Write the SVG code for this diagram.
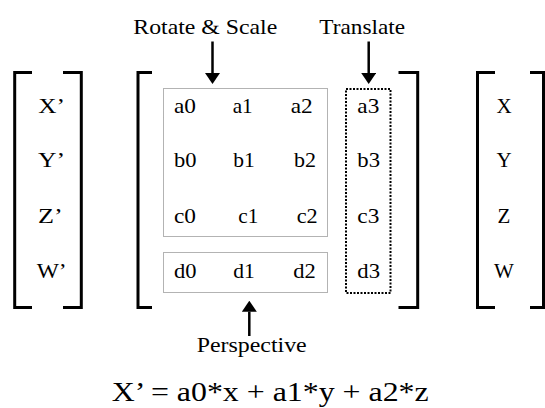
<svg xmlns="http://www.w3.org/2000/svg" width="545" height="408" viewBox="0 0 545 408">
<style>
text { font-family: "Liberation Serif", "Times New Roman", serif; font-size: 21px; fill: #000; }
.bracket { fill: none; stroke: #000; stroke-width: 3; }
.thinbox { fill: none; stroke: #666; stroke-width: 1; stroke-dasharray: 1 1; }
.thickbox { fill: none; stroke: #000; stroke-width: 2; stroke-dasharray: 2 1.5; }
.arrow { stroke: #000; stroke-width: 2.5; fill: none; }
.eq { font-size: 28px; }
</style>
<defs>
<marker id="head" viewBox="0 0 11 15" refX="0" refY="7.5" markerWidth="11" markerHeight="15" markerUnits="userSpaceOnUse" orient="auto">
<path d="M0,0 L11,7.5 L0,15 Z" fill="#000"/>
</marker>
</defs>
<rect width="545" height="408" fill="#fff"/>

<g id="result-vector">
<path class="bracket" d="M32,72.5 H14.7 V307.5 H32"/>
<path class="bracket" d="M63,72.5 H81.3 V307.5 H63"/>
<text x="51.7" y="113" text-anchor="middle" textLength="26.7" lengthAdjust="spacingAndGlyphs">X’</text>
<text x="51.5" y="167" text-anchor="middle" textLength="27" lengthAdjust="spacingAndGlyphs">Y’</text>
<text x="50.4" y="223" text-anchor="middle" textLength="24.7" lengthAdjust="spacingAndGlyphs">Z’</text>
<text x="51.7" y="278" text-anchor="middle" textLength="30" lengthAdjust="spacingAndGlyphs">W’</text>
</g>

<g id="matrix">
<path class="bracket" d="M152,72.5 H138 V307.5 H152"/>
<path class="bracket" d="M398.5,72.5 H417.7 V307.5 H398.5"/>
<text x="174" y="113" textLength="22" lengthAdjust="spacingAndGlyphs">a0</text>
<text x="232.7" y="113" textLength="20" lengthAdjust="spacingAndGlyphs">a1</text>
<text x="290.7" y="113" textLength="22" lengthAdjust="spacingAndGlyphs">a2</text>
<text x="174" y="167" textLength="22.5" lengthAdjust="spacingAndGlyphs">b0</text>
<text x="233.3" y="167" textLength="21.5" lengthAdjust="spacingAndGlyphs">b1</text>
<text x="294" y="167" textLength="22" lengthAdjust="spacingAndGlyphs">b2</text>
<text x="174" y="223" textLength="22" lengthAdjust="spacingAndGlyphs">c0</text>
<text x="238.3" y="223" textLength="20" lengthAdjust="spacingAndGlyphs">c1</text>
<text x="296.7" y="223" textLength="21" lengthAdjust="spacingAndGlyphs">c2</text>
<text x="174" y="278" textLength="22.5" lengthAdjust="spacingAndGlyphs">d0</text>
<text x="233.3" y="278" textLength="21.5" lengthAdjust="spacingAndGlyphs">d1</text>
<text x="293.3" y="278" textLength="22.5" lengthAdjust="spacingAndGlyphs">d2</text>
</g>

<g id="rotate-scale">
<rect class="thinbox" x="163.5" y="88.5" width="164" height="148"/>
<text x="205.3" y="33.5" text-anchor="middle" textLength="144" lengthAdjust="spacingAndGlyphs">Rotate &amp; Scale</text>
</g>

<g id="perspective">
<rect class="thinbox" x="163.5" y="252.5" width="164" height="40"/>
<text x="251.7" y="352" text-anchor="middle" textLength="110" lengthAdjust="spacingAndGlyphs">Perspective</text>
</g>

<g id="translate">
<rect class="thickbox" x="346" y="89" width="44.5" height="204"/>
<text x="362.2" y="33.5" text-anchor="middle" textLength="85.7" lengthAdjust="spacingAndGlyphs">Translate</text>
<text x="357.3" y="113" textLength="22" lengthAdjust="spacingAndGlyphs">a3</text>
<text x="357.3" y="167" textLength="22.7" lengthAdjust="spacingAndGlyphs">b3</text>
<text x="357.3" y="223" textLength="22" lengthAdjust="spacingAndGlyphs">c3</text>
<text x="357.3" y="278" textLength="22.7" lengthAdjust="spacingAndGlyphs">d3</text>
</g>

<g id="input-vector">
<path class="bracket" d="M495,72.5 H477.5 V307.5 H495"/>
<path class="bracket" d="M530,72.5 H543.5 V307.5 H530"/>
<text x="504" y="113" text-anchor="middle">X</text>
<text x="504" y="167" text-anchor="middle">Y</text>
<text x="504" y="223" text-anchor="middle">Z</text>
<text x="504" y="278" text-anchor="middle">W</text>
</g>

<g id="connectors">
<line class="arrow" x1="212.5" y1="41.5" x2="212.5" y2="73" marker-end="url(#head)"/>
<line class="arrow" x1="368.7" y1="41.5" x2="368.7" y2="73" marker-end="url(#head)"/>
<line class="arrow" x1="249.3" y1="336" x2="249.3" y2="311.7" marker-end="url(#head)"/>
</g>

<g id="equation">
<text class="eq" x="111.7" y="401" textLength="317" lengthAdjust="spacingAndGlyphs">X’ = a0*x + a1*y + a2*z</text>
</g>
</svg>
